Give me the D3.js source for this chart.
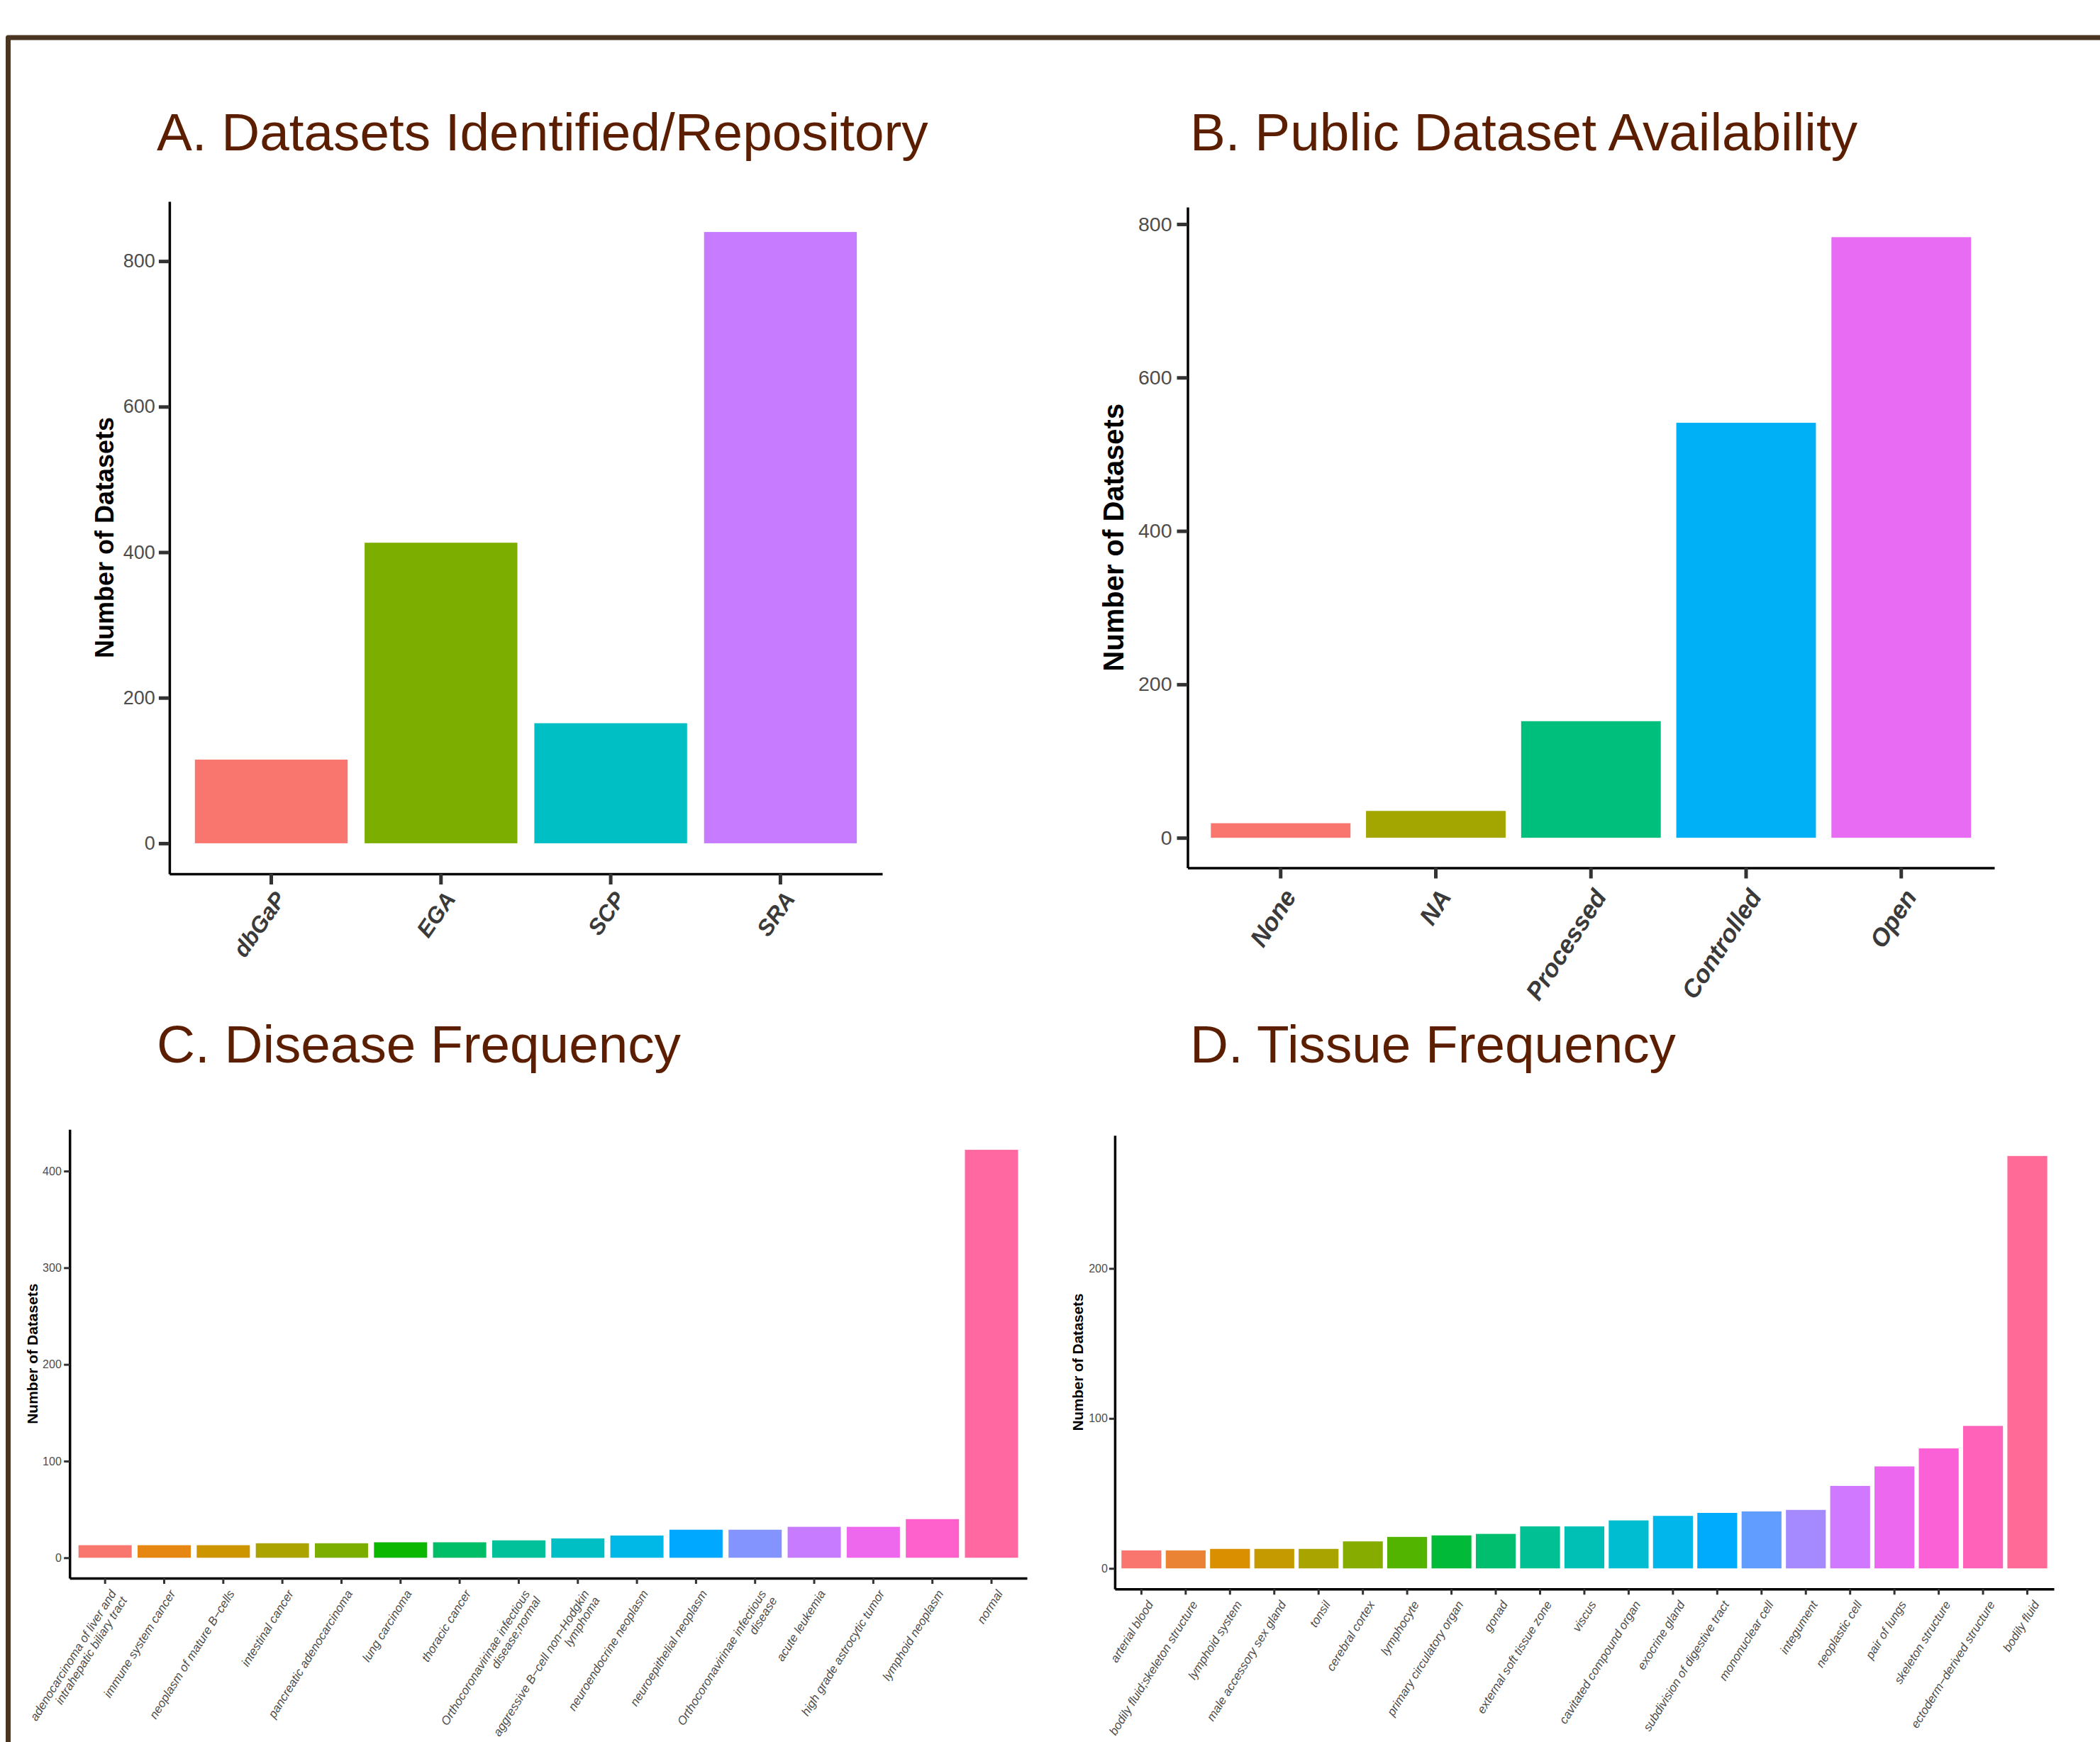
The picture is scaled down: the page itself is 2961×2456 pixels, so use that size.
<!DOCTYPE html>
<html><head><meta charset="utf-8">
<script src="https://cdn.jsdelivr.net/npm/d3@7"></script>
<style>body{margin:0;background:#fff} svg{display:block}</style>
</head><body>
<script>
// ---------------- DATA ----------------
const repoCategories = ["dbGaP", "EGA", "SCP", "SRA"];
const repoValues = [115, 413, 165, 840];
const repoTicks = [0, 200, 400, 600, 800];

const availCategories = ["None", "NA", "Processed", "Controlled", "Open"];
const availValues = [19, 35, 152, 541, 783];
const availTicks = [0, 200, 400, 600, 800];

const diseaseCategories = [
  "adenocarcinoma of liver and\nintrahepatic biliary tract",
  "immune system cancer",
  "neoplasm of mature B\u2212cells",
  "intestinal cancer",
  "pancreatic adenocarcinoma",
  "lung carcinoma",
  "thoracic cancer",
  "Orthocoronavirinae infectious\ndisease;normal",
  "aggressive B\u2212cell non\u2212Hodgkin\nlymphoma",
  "neuroendocrine neoplasm",
  "neuroepithelial neoplasm",
  "Orthocoronavirinae infectious\ndisease",
  "acute leukemia",
  "high grade astrocytic tumor",
  "lymphoid neoplasm",
  "normal"
];
const diseaseValues = [13, 13, 13, 15, 15, 16, 16, 18, 20, 23, 29, 29, 32, 32, 40, 422];
const diseaseTicks = [0, 100, 200, 300, 400];

const tissueCategories = [
  "arterial blood", "bodily fluid;skeleton structure", "lymphoid system",
  "male accessory sex gland", "tonsil", "cerebral cortex", "lymphocyte",
  "primary circulatory organ", "gonad", "external soft tissue zone", "viscus",
  "cavitated compound organ", "exocrine gland", "subdivision of digestive tract",
  "mononuclear cell", "integument", "neoplastic cell", "pair of lungs",
  "skeleton structure", "ectoderm\u2212derived structure", "bodily fluid"
];
const tissueValues = [12, 12, 13, 13, 13, 18, 21, 22, 23, 28, 28, 32, 35, 37, 38, 39, 55, 68, 80, 95, 275];
const tissueTicks = [0, 100, 200];

const yTitleText = "Number of Datasets";

// ---------------- ggplot-like hue palette (polar LUV) ----------------
function hclLuv(h, c, l) {
  const WY = 100, Wu = 0.1978398, Wv = 0.4683363;
  const hr = h * Math.PI / 180;
  const L = l, U = c * Math.cos(hr), V = c * Math.sin(hr);
  const Y = WY * (L > 7.999592 ? Math.pow((L + 16) / 116, 3) : L / 903.3);
  const u = U / (13 * L) + Wu, v = V / (13 * L) + Wv;
  const X = 9 * Y * u / (4 * v);
  const Z = -X / 3 - 5 * Y + 3 * Y / v;
  const g = t => t > 0.00304 ? 1.055 * Math.pow(t, 1 / 2.4) - 0.055 : 12.92 * t;
  const cl = t => Math.round(255 * Math.max(0, Math.min(1, t)));
  const r = g((3.240479 * X - 1.537150 * Y - 0.498535 * Z) / WY);
  const gg = g((-0.969256 * X + 1.875992 * Y + 0.041556 * Z) / WY);
  const b = g((0.055648 * X - 0.204043 * Y + 1.057311 * Z) / WY);
  return d3.rgb(cl(r), cl(gg), cl(b)).formatHex();
}
function huePal(n) {
  const out = [];
  for (let i = 0; i < n; i++) out.push(hclLuv((15 + 360 * i / n) % 360, 100, 65));
  return out;
}

// ---------------- LAYOUT ----------------
const W = 2961, H = 2456;
const FONT = "'Liberation Sans', Arial, Helvetica, sans-serif";
const svg = d3.select("body").append("svg").attr("width", W).attr("height", H)
  .attr("viewBox", `0 0 ${W} ${H}`);
svg.append("rect").attr("width", W).attr("height", H).attr("fill", "#fff");

// frame
svg.append("path").attr("d", `M11.5,${H + 10} L11.5,53 L${W + 10},53`)
  .attr("fill", "none").attr("stroke", "#4a3522").attr("stroke-width", 7)
  .attr("stroke-linejoin", "round");

const panels = [
  { title: "A. Datasets Identified/Repository", tx: 221, ty: 212,
    cats: repoCategories, vals: repoValues, ticks: repoTicks,
    x0: 238.9, x1: 1244, yTop: 284, yBot: 1232,
    axisW: 3.5, tickLen: 15, tickW: 5, yTickSize: 27, yTickPad: 5,
    yTitleSize: 36, yTitleX: 147, xFont: 32, xBold: true, xAngle: 55, xdx: 3, xdy: 22, xColor: "#3a3a3a" },
  { title: "B. Public Dataset Availability", tx: 1678, ty: 212,
    cats: availCategories, vals: availValues, ticks: availTicks,
    x0: 1674.5, x1: 2812, yTop: 292, yBot: 1223.5,
    axisW: 3.5, tickLen: 15, tickW: 5, yTickSize: 28.5, yTickPad: 7,
    yTitleSize: 40, yTitleX: 1570, xFont: 35, xBold: true, xAngle: 57, xdx: 2, xdy: 27, xColor: "#3a3a3a" },
  { title: "C. Disease Frequency", tx: 221, ty: 1498,
    cats: diseaseCategories, vals: diseaseValues, ticks: diseaseTicks,
    x0: 98.2, x1: 1448, yTop: 1592.3, yBot: 2225,
    axisW: 3.5, tickLen: 8, tickW: 3, yTickSize: 16, yTickPad: 3.4,
    yTitleSize: 21, yTitleX: 45, xFont: 17, xBold: false, xAngle: 58, xdx: 6, xdy: 15, xColor: "#4d4d4d" },
  { title: "D. Tissue Frequency", tx: 1678, ty: 1498,
    cats: tissueCategories, vals: tissueValues, ticks: tissueTicks,
    x0: 1571.9, x1: 2896, yTop: 1600.7, yBot: 2240.3,
    axisW: 3.5, tickLen: 8, tickW: 3, yTickSize: 16, yTickPad: 2,
    yTitleSize: 20.5, yTitleX: 1520, xFont: 17, xBold: false, xAngle: 58, xdx: 7, xdy: 15, xColor: "#4d4d4d" }
];

panels.forEach(p => {
  const g = svg.append("g");
  const colors = huePal(p.cats.length);
  const maxV = d3.max(p.vals);

  // title
  g.append("text").attr("x", p.tx).attr("y", p.ty).text(p.title)
    .attr("font-family", FONT).attr("font-size", 74.7).attr("fill", "#5c1e00");

  const x = d3.scaleBand().domain(p.cats).range([p.x0, p.x1])
    .paddingInner(0.1).paddingOuter(0.15);
  const y = d3.scaleLinear().domain([-0.05 * maxV, 1.05 * maxV]).range([p.yBot, p.yTop]);

  // bars
  g.selectAll("rect.bar").data(p.cats).join("rect").attr("class", "bar")
    .attr("x", d => x(d)).attr("width", x.bandwidth())
    .attr("y", (d, i) => y(p.vals[i])).attr("height", (d, i) => y(0) - y(p.vals[i]))
    .attr("fill", (d, i) => colors[i]);

  // y axis
  const ya = g.append("g").attr("transform", `translate(${p.x0},0)`)
    .call(d3.axisLeft(y).tickValues(p.ticks).tickSize(p.tickLen).tickSizeOuter(0).tickPadding(p.yTickPad));
  ya.select(".domain").attr("stroke", "#000").attr("stroke-width", p.axisW);
  ya.selectAll(".tick line").attr("stroke", "#333").attr("stroke-width", p.tickW);
  ya.selectAll(".tick text").attr("font-family", FONT).attr("font-size", p.yTickSize).attr("fill", "#4d4d4d");

  // x axis
  const xa = g.append("g").attr("transform", `translate(0,${p.yBot})`)
    .call(d3.axisBottom(x).tickSize(p.tickLen).tickSizeOuter(0).tickFormat(""));
  xa.select(".domain").attr("stroke", "#000").attr("stroke-width", p.axisW);
  xa.selectAll(".tick line").attr("stroke", "#333").attr("stroke-width", p.tickW);

  // x labels
  p.cats.forEach(c => {
    const cx = x(c) + x.bandwidth() / 2;
    const t = g.append("text")
      .attr("transform", `translate(${cx + p.xdx},${p.yBot + p.xdy}) rotate(${-p.xAngle})`)
      .attr("text-anchor", "end").attr("font-family", FONT).attr("font-size", p.xFont)
      .attr("font-style", "italic").attr("font-weight", p.xBold ? "bold" : "normal")
      .attr("fill", p.xColor);
    c.split("\n").forEach((ln, i) => {
      t.append("tspan").attr("x", 0).attr("dy", i === 0 ? "0.72em" : "1.05em").text(ln);
    });
  });

  // y title
  g.append("text")
    .attr("transform", `translate(${p.yTitleX},${(p.yTop + p.yBot) / 2}) rotate(-90)`)
    .attr("text-anchor", "middle").attr("dy", "0.36em")
    .attr("font-family", FONT).attr("font-size", p.yTitleSize).attr("font-weight", "bold")
    .attr("fill", "#000").text(yTitleText);
});
</script>
</body></html>
